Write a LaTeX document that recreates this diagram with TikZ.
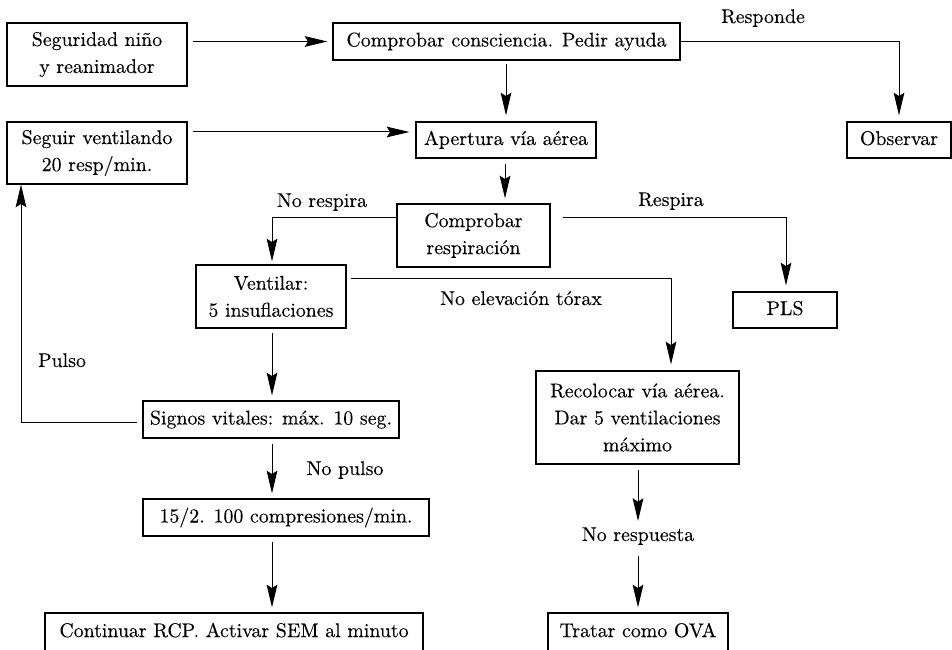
\documentclass[tikz,border=0pt]{standalone}
\usepackage{fontspec}
\setmainfont{lmroman10-regular.otf}[FakeBold=0.2]
\usetikzlibrary{arrows.meta,calc}
\newcommand\diafont{\fontsize{14.9pt}{20.25pt}\selectfont}
\begin{document}
\begin{tikzpicture}[x=0.75pt,y=-0.75pt,
  box/.style={draw, line width=0.9pt, align=center, inner sep=0pt, font=\diafont},
  one/.style={text height=10.8pt, text depth=3.3pt},
  cut/.style={text height=10.8pt, text depth=7.7pt},
  lbl/.style={inner sep=0pt, font=\diafont, anchor=base},
  arr/.style={line width=0.75pt, -{Stealth[length=17pt,width=8pt,inset=2.5pt]}},
  sz/.style 2 args={minimum width=#1*0.75pt, minimum height=#2*0.75pt}]
\clip (0,0) rectangle (952,649);
% boxes
\node[box,sz={180}{63}] (seg) at (97,54.5) {Seguridad niño\\y reanimador};
\node[box,one,sz={347}{37}] (cc) at (506.5,41.5) {Comprobar consciencia. Pedir ayuda};
\node[box,one,sz={104}{36}] (obs) at (899,140) {Observar};
\node[box,sz={180}{62}] (sv) at (97,153) {Seguir ventilando\\20 resp/min.};
\node[box,one,sz={180}{36}] (ap) at (506,140) {Apertura vía aérea};
\node[box,sz={153}{63}] (cr) at (473.5,235.5) {Comprobar\\respiración};
\node[box,one,sz={104}{36}] (pls) at (785,310) {PLS};
\node[box,sz={150}{63}] (ven) at (271,296.5) {Ventilar:\\5 insuflaciones};
\node[box,sz={203}{93}] (rec) at (637.5,417.5) {Recolocar vía aérea.\\Dar 5 ventilaciones\\máximo};
\node[box,one,sz={256}{37}] (sig) at (271,419.5) {Signos vitales: máx. 10 seg.};
\node[box,one,sz={286}{37}] (quince) at (286,517.5) {15/2. 100 compresiones/min.};
\node[box,cut,sz={378}{44}] (cont) at (234,635) {Continuar RCP. Activar SEM al minuto};
\node[box,cut,sz={180}{44}] (trat) at (638,635) {Tratar como OVA};
% labels
\node[lbl] (lresp) at (763,23) {Responde};
\node[lbl] (lrespira) at (671,206) {Respira};
\node[lbl] (lnorespira) at (322,207) {No respira};
\node[lbl] (lnoelev) at (521,305) {No elevación tórax};
\node[lbl] (lpulso) at (62,367) {Pulso};
\node[lbl] (lnopulso) at (345,475) {No pulso};
\node[lbl] (nr) at (638,541) {No respuesta};
% connectors
\draw[arr] ($(seg.east |- cc.west)+(5,0)$) -- ($(cc.west)+(-5,0)$);
\draw[arr] (cc.east) -| ($(obs.north)+(0,-6)$);
\draw[arr] ($(ap.north |- cc.south)+(0,3)$) -- ($(ap.north)+(0,-6)$);
\draw[arr] ($(sv.east)+(5,-21)$) -- ($(ap.west)+(-6,-8)$);
\draw[arr] ($(ap.south)+(-1,5)$) -- ($(ap.south |- cr.north)+(-1,-5)$);
\draw[arr] ($(cr.east)+(12,-18.5)$) -| ($(pls.north)+(1,-6)$);
\draw[arr] ($(cr.west)+(0,-18.5)$) -| ($(ven.north)+(1,-3)$);
\draw[arr] ($(ven.east)+(4,-18.5)$) -| ($(rec.north)+(33.5,-6)$);
\draw[arr] ($(ven.south)+(1,4)$) -- ($(ven.south |- sig.north)+(1,-5)$);
\draw[arr] ($(sig.west)+(-5,2.5)$) -| ($(sv.south)+(-76,0)$);
\draw[arr] ($(sig.south)+(1,5)$) -- ($(sig.south |- quince.north)+(1,-5)$);
\draw[arr] ($(quince.south)+(-14,5)$) -- ($(quince.south |- cont.north)+(-14,-5)$);
\draw[arr] ($(rec.south)+(0.5,5)$) -- ($(nr.base)+(0,-20)$);
\draw[arr] ($(nr.base)+(0,15)$) -- ($(trat.north)+(0,-5)$);
\end{tikzpicture}
\end{document}
